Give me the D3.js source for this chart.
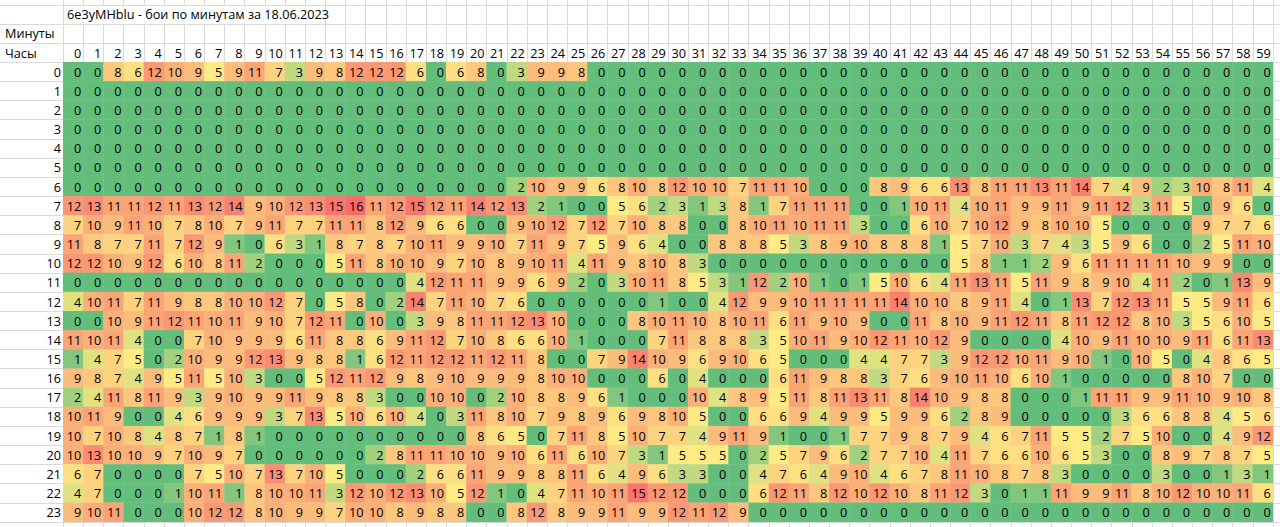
<!DOCTYPE html>
<html>
<head>
<meta charset="utf-8">
<script src="https://cdn.jsdelivr.net/npm/d3@7"></script>
<style>
    body { margin: 0; background: #fff; }
    svg { display: block; }
    text { font-family: "Open Sans", sans-serif; font-size: 12.7px; fill: #000; }
</style>
</head>
<body>
<svg id="sheet"></svg>
<script>
const title = "6e3yMHblu - бои по минутам за 18.06.2023";
const minutesLabel = "Минуты";
const hoursLabel = "Часы";

const minutes = d3.range(60);
const hours = d3.range(24);

// бои по минутам, одна строка на час
const fights = [
    [0,0,8,6,12,10,9,5,9,11,7,3,9,8, 12,12,12,6,0,6,8,0,3,9,9,8,0,0,0, 0,0,0,0,0,0,0,0,0,0,0,0,0,0,0, 0,0,0,0,0,0,0,0,0,0,0,0,0,0,0,0],
    [0,0,0,0,0,0,0,0,0,0,0,0,0,0, 0,0,0,0,0,0,0,0,0,0,0,0,0,0,0, 0,0,0,0,0,0,0,0,0,0,0,0,0,0,0, 0,0,0,0,0,0,0,0,0,0,0,0,0,0,0,0],
    [0,0,0,0,0,0,0,0,0,0,0,0,0,0, 0,0,0,0,0,0,0,0,0,0,0,0,0,0,0, 0,0,0,0,0,0,0,0,0,0,0,0,0,0,0, 0,0,0,0,0,0,0,0,0,0,0,0,0,0,0,0],
    [0,0,0,0,0,0,0,0,0,0,0,0,0,0, 0,0,0,0,0,0,0,0,0,0,0,0,0,0,0, 0,0,0,0,0,0,0,0,0,0,0,0,0,0,0, 0,0,0,0,0,0,0,0,0,0,0,0,0,0,0,0],
    [0,0,0,0,0,0,0,0,0,0,0,0,0,0, 0,0,0,0,0,0,0,0,0,0,0,0,0,0,0, 0,0,0,0,0,0,0,0,0,0,0,0,0,0,0, 0,0,0,0,0,0,0,0,0,0,0,0,0,0,0,0],
    [0,0,0,0,0,0,0,0,0,0,0,0,0,0, 0,0,0,0,0,0,0,0,0,0,0,0,0,0,0, 0,0,0,0,0,0,0,0,0,0,0,0,0,0,0, 0,0,0,0,0,0,0,0,0,0,0,0,0,0,0,0],
    [0,0,0,0,0,0,0,0,0,0,0,0,0,0, 0,0,0,0,0,0,0,0,2,10,9,9,6,8,10, 8,12,10,10,7,11,11,10,0,0,0,8,9,6,6, 13,8,11,11,13,11,14,7,4,9,2,3,10,8,11,4],
    [12,13,11,11,12,11,13,12,14,9,10,12,13,15, 16,11,12,15,12,11,14,12,13,2,1,0,0,5,6, 2,3,1,3,8,1,7,11,11,11,0,0,1,10,11, 4,10,11,9,9,11,9,11,12,3,11,5,0,9,6,0],
    [7,10,9,11,10,7,8,10,7,9,11,7,7,11, 11,8,12,9,6,6,0,0,9,10,12,7,12,7,10, 8,8,0,0,8,10,11,10,11,11,3,0,0,6,10, 7,10,12,9,8,10,10,5,0,0,0,0,9,7,7,6],
    [11,8,7,7,11,7,12,9,1,0,6,3,1,8, 7,8,7,10,11,9,9,10,7,11,9,7,5,9,6, 4,0,0,8,8,8,5,3,8,9,10,8,8,8,1, 5,7,10,3,7,4,3,5,9,6,0,0,2,5,11,10],
    [12,12,10,9,12,6,10,8,11,2,0,0,0,5, 11,8,10,10,9,7,10,8,9,10,11,4,11,9,8, 10,8,3,0,0,0,0,0,0,0,0,0,0,0,0, 5,8,1,1,2,9,6,11,11,11,11,10,9,9,0,0],
    [0,0,0,0,0,0,0,0,0,0,0,0,0,0, 0,0,0,4,12,11,11,9,9,6,9,2,0,3,10, 11,8,5,3,1,12,2,10,1,0,1,5,10,6,4, 11,13,11,5,11,9,8,9,10,4,11,2,0,1,13,9],
    [4,10,11,7,11,9,8,8,10,10,12,7,0,5, 8,0,2,14,7,11,10,7,6,0,0,0,0,0,0, 1,0,0,4,12,9,9,10,11,11,11,11,14,10,10, 8,9,11,4,0,1,13,7,12,13,11,5,5,9,11,6],
    [0,0,10,9,11,12,11,10,11,9,10,7,12,11, 0,10,0,3,9,8,11,11,12,13,10,0,0,0,8, 10,11,10,8,10,11,6,11,9,10,9,0,0,11,8, 10,9,11,12,11,8,11,12,12,8,10,3,5,6,10,5],
    [11,10,11,4,0,0,7,10,9,9,9,6,11,8, 8,6,9,11,12,7,10,8,6,6,10,1,0,0,0, 7,11,8,8,8,3,5,10,11,9,10,12,11,10,12, 9,0,0,0,0,4,10,9,11,10,10,9,11,6,11,13],
    [1,4,7,5,0,2,10,9,9,12,13,9,8,8, 1,6,12,11,12,12,11,12,11,8,0,0,7,9,14, 10,9,6,9,10,6,5,0,0,0,4,4,7,7,3, 9,12,12,10,11,9,10,1,0,10,5,0,4,8,6,5],
    [9,8,7,4,9,5,11,5,10,3,0,0,5,12, 11,12,9,8,9,10,9,9,9,8,10,10,0,0,0, 6,0,4,0,0,0,6,11,9,8,8,3,7,6,9, 10,11,10,6,10,1,0,0,0,0,0,8,10,7,0,0],
    [2,4,11,8,11,9,3,9,10,9,9,11,9,8, 8,3,0,0,10,10,0,2,10,8,8,9,6,1,0, 0,0,10,4,8,9,5,11,8,11,13,11,8,14,10, 9,8,8,0,0,0,1,11,11,9,9,11,10,9,10,8],
    [10,11,9,0,0,4,6,9,9,9,3,7,13,5, 10,6,10,4,0,3,11,8,10,7,9,8,9,6,9, 8,10,5,0,0,6,6,9,4,9,9,5,9,9,6, 2,8,9,0,0,0,0,0,3,6,6,8,8,4,5,6],
    [10,7,10,8,4,8,7,1,8,1,0,0,0,0, 0,0,0,0,0,0,8,6,5,0,7,11,8,5,10, 7,7,4,9,11,9,1,0,0,1,7,7,9,8,7, 9,4,6,7,11,5,5,2,7,5,10,0,0,4,9,12],
    [10,13,10,10,9,7,10,9,7,0,0,0,0,0, 0,2,8,11,11,10,10,9,10,6,11,6,10,7,3, 1,5,5,5,0,2,5,7,9,6,2,7,7,10,4, 11,7,6,6,10,6,5,3,0,0,8,9,7,8,7,5],
    [6,7,0,0,0,0,7,5,10,7,13,7,10,5, 0,0,0,2,6,6,11,9,9,8,8,11,6,4,9, 6,3,3,0,0,4,7,6,4,9,10,4,6,7,8, 11,10,8,7,8,3,0,0,0,0,3,0,0,1,3,1],
    [4,7,0,0,0,1,10,11,1,8,10,10,11,3, 12,10,12,13,10,5,12,1,0,4,7,11,10,11,15, 12,12,0,0,0,6,12,11,8,12,10,12,10,8,11, 12,3,0,1,1,11,9,9,11,8,10,12,10,10,11,6],
    [9,10,11,0,0,0,10,12,12,8,10,9,9,7, 10,10,8,9,8,8,0,0,8,12,8,9,9,11,9, 9,12,11,12,9,0,0,0,0,0,0,0,0,0,0, 0,0,0,0,0,0,0,0,0,0,0,0,0,0,0,0]
];

const width = 1280, height = 527;
const svg = d3.select("#sheet").attr("width", width).attr("height", height);

const x = d3.scaleBand().domain(minutes).range([63, 1272.7]);
const y = d3.scaleBand().domain(hours).range([62, 521.7]);
const rowH = y.step(), colW = x.step();
const labelRight = 63;

// трёхцветная шкала как в Excel: минимум, 50-й процентиль, максимум
const all = fights.flat();
const color = d3.scaleLinear()
    .domain([d3.min(all), d3.quantile(all, 0.5), d3.max(all)])
    .range(["#63BE7B", "#FFEB84", "#F8696B"]);

// сетка листа
const grid = svg.append("g").attr("stroke", "#dadada").attr("stroke-width", 1);
const colEdges = minutes.map(m => x(m)).concat([x(59) + colW]);
grid.selectAll(".v").data(colEdges).join("line")
    .attr("x1", d => Math.round(d) + 0.5).attr("x2", d => Math.round(d) + 0.5)
    .attr("y1", 0).attr("y2", height);
const rowEdges = d3.range(-3, 25).map(i => y(0) + i * rowH);
grid.selectAll(".h").data(rowEdges).join("line")
    .attr("x1", 0).attr("x2", width)
    .attr("y1", d => Math.round(d) + 0.5).attr("y2", d => Math.round(d) + 0.5);

// строка заголовка: текст перекрывает сетку
const titleTop = Math.round(y(0) - 3 * rowH) + 1;
svg.append("rect")
    .attr("x", Math.round(x(0)) + 1)
    .attr("y", titleTop)
    .attr("width", Math.round(x(12) + colW) - Math.round(x(0)) - 1)
    .attr("height", Math.round(y(0) - 2 * rowH) - titleTop)
    .attr("fill", "#fff");

// ячейки
const cells = [];
fights.forEach((row, h) => row.forEach((v, m) => cells.push({ h, m, v })));

svg.append("g").selectAll("rect")
    .data(cells).join("rect")
    .attr("x", d => x(d.m))
    .attr("y", d => y(d.h))
    .attr("width", colW + 0.3)
    .attr("height", rowH + 0.3)
    .attr("fill", d => color(d.v));

svg.append("g").selectAll("text")
    .data(cells).join("text")
    .attr("x", d => x(d.m) + colW - 2)
    .attr("y", d => y(d.h) + rowH - 4.5)
    .attr("text-anchor", "end")
    .text(d => d.v);

// подписи
svg.append("text")
    .attr("x", x(0) + 4)
    .attr("y", y(0) - 2 * rowH - 4.5)
    .text(title);

svg.append("text")
    .attr("x", 5)
    .attr("y", y(0) - rowH - 4.5)
    .text(minutesLabel);

svg.append("text")
    .attr("x", 5)
    .attr("y", y(0) - 4.5)
    .text(hoursLabel);

svg.append("g").selectAll("text")
    .data(minutes).join("text")
    .attr("x", d => x(d) + colW - 2)
    .attr("y", y(0) - 4.5)
    .attr("text-anchor", "end")
    .text(d => d);

svg.append("g").selectAll("text")
    .data(hours).join("text")
    .attr("x", labelRight - 2)
    .attr("y", d => y(d) + rowH - 4.5)
    .attr("text-anchor", "end")
    .text(d => d);
</script>
</body>
</html>
